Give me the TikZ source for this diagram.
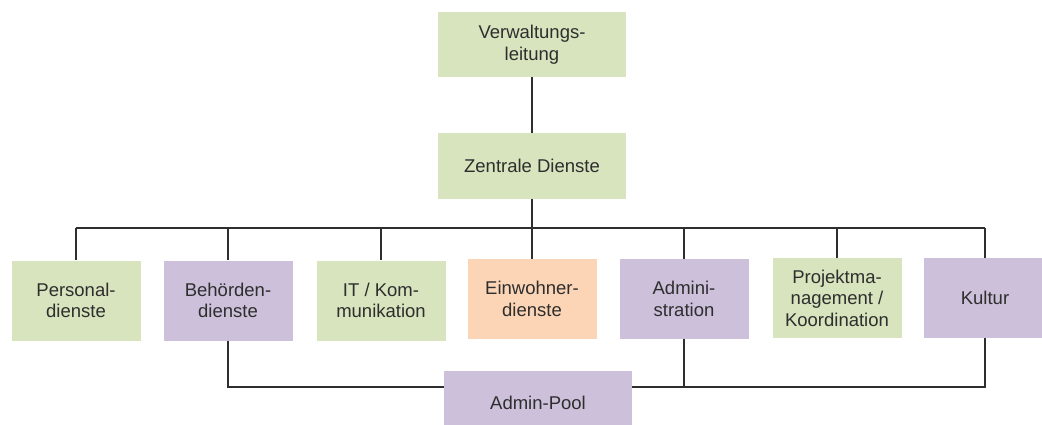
\documentclass[tikz,border=0pt]{standalone}
\usepackage{fontspec}
\setmainfont{Liberation Sans}
\definecolor{boxgreen}{HTML}{D7E4BD}
\definecolor{boxpurple}{HTML}{CCC0DA}
\definecolor{boxorange}{HTML}{FBD5B5}
\definecolor{ink}{HTML}{2E2E2E}
\tikzset{
  orgbox/.style={draw=none, minimum width=129pt, minimum height=80pt, inner sep=0pt, align=center,
    text=ink, font=\fontsize{18.5pt}{21.5pt}\selectfont},
  widebox/.style={orgbox, minimum width=188pt, minimum height=65pt},
  gbox/.style={fill=boxgreen},
  pbox/.style={fill=boxpurple},
  obox/.style={fill=boxorange},
  conn/.style={draw=ink, line width=1.3pt}
}
\begin{document}
\begin{tikzpicture}[x=1pt,y=-1pt]
\clip (0,0) rectangle (1042,425);
\useasboundingbox (0,0) rectangle (1042,425);
\node[widebox,gbox] (vl) at (532,44.5) {Verwaltungs-\\leitung};
\node[widebox,gbox] (zd) at (532,166) {Zentrale Dienste};
\node[orgbox,gbox] (pers) at (76,300.5) {Personal-\\dienste};
\node[orgbox,pbox] (beh) at (228,300.5) {Behörden-\\dienste};
\node[orgbox,gbox] (it) at (381,300.5) {IT / Kom-\\munikation};
\node[orgbox,obox] (ein) at (532,299) {Einwohner-\\dienste};
\node[orgbox,pbox] (adm) at (684,299) {Admini-\\stration};
\node[orgbox,gbox] (proj) at (837,298) {Projektma-\\nagement /\\Koordination};
\node[orgbox,pbox,minimum width=122pt] (kul) at (985,298) {Kultur};
\node[widebox,pbox,minimum height=64pt] (pool) at (538,403) {Admin-Pool};
\coordinate (bus) at (0,228);
\coordinate (lowbus) at (0,387);
\draw[conn] (vl.south) -- (zd.north);
\draw[conn] (zd.south) -- (zd.south |- bus);
\draw[conn] (pers.north |- bus) -- (kul.north |- bus);
\foreach \n in {pers,beh,it,ein,adm,proj,kul}
  \draw[conn] (\n.north) -- (\n.north |- bus);
\draw[conn] (beh.south) |- (pool.west |- lowbus);
\draw[conn] (pool.east |- lowbus) -| (kul.south);
\draw[conn] (adm.south) -- (adm.south |- lowbus);
\end{tikzpicture}
\end{document}
